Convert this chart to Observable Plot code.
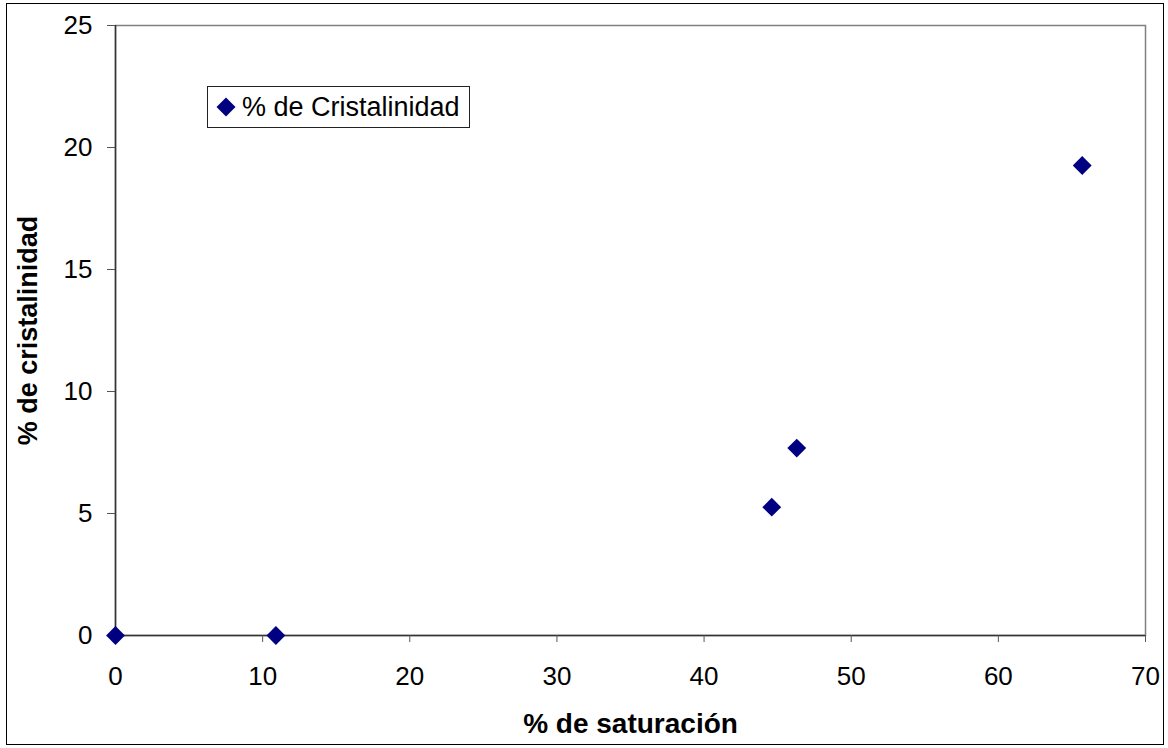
<!DOCTYPE html>
<html><head><meta charset="utf-8">
<script src="https://cdn.jsdelivr.net/npm/d3@7"></script>
<script src="https://cdn.jsdelivr.net/npm/@observablehq/plot@0.6"></script>
<style>
body{margin:0;background:#fff;}
#wrap{position:relative;width:1168px;height:748px;font-family:"Liberation Sans",Arial,sans-serif;}
#frame{position:absolute;left:6px;top:3px;width:1158px;height:742px;border:1px solid #000;box-sizing:border-box;pointer-events:none;}
#legend{position:absolute;left:207px;top:86px;width:263px;height:42px;border:1px solid #222;box-sizing:border-box;background:#fff;display:flex;align-items:center;font-size:27px;color:#000;}
#legend svg{margin-left:8px;margin-right:6px;}
</style>
</head><body>
<div id="wrap"><div id="frame"></div></div>
<script>
const saturacion = [0, 10.9, 44.6, 46.3, 65.7];
const cristalinidad = [0, 0, 5.26, 7.68, 19.26];
const xTicks = [0, 10, 20, 30, 40, 50, 60, 70];
const yTicks = [0, 5, 10, 15, 20, 25];
const xTitle = "% de saturación";
const yTitle = "% de cristalinidad";
const seriesName = "% de Cristalinidad";

const data = saturacion.map((s, i) => ({s, c: cristalinidad[i]}));

const chart = Plot.plot({
  width: 1168, height: 748,
  marginLeft: 115, marginTop: 25, marginRight: 23, marginBottom: 113,
  x: {domain: [0, 70]},
  y: {domain: [0, 25]},
  style: {fontFamily: "'Liberation Sans', Arial, sans-serif", background: "transparent", color: "#000"},
  marks: [
    Plot.frame({stroke: "#808080", strokeWidth: 1.5}),
    Plot.ruleX([0], {stroke: "#333", strokeWidth: 1.5}),
    Plot.ruleY([0], {stroke: "#333", strokeWidth: 1.5}),
    Plot.axisX({ticks: xTicks, tickSize: 7, tickPadding: 24, label: null, fontSize: 26, stroke: "#555"}),
    Plot.axisY({ticks: yTicks, tickSize: 8, tickPadding: 15, label: null, fontSize: 26, stroke: "#555"}),
    Plot.dot(data, {x: "s", y: "c", symbol: "diamond2", r: 8.5, fill: "#000080", stroke: null}),
    Plot.text([xTitle], {text: d => d, frameAnchor: "bottom", textAnchor: "middle", lineAnchor: "middle", dy: 89, fontWeight: "bold", fontSize: 28}),
    Plot.text([yTitle], {text: d => d, frameAnchor: "left", textAnchor: "middle", lineAnchor: "middle", dx: -87, rotate: -90, fontWeight: "bold", fontSize: 27})
  ]
});
const wrap = document.getElementById("wrap");
wrap.insertBefore(chart, wrap.firstChild);
const lg = document.createElement("div");
lg.id = "legend";
lg.innerHTML = '<svg width="20" height="20" viewBox="-10 -10 20 20"><polygon points="0,-9.5 9.5,0 0,9.5 -9.5,0" fill="#000080"/></svg><span></span>';
lg.querySelector("span").textContent = seriesName;
wrap.appendChild(lg);
</script>
</body></html>
